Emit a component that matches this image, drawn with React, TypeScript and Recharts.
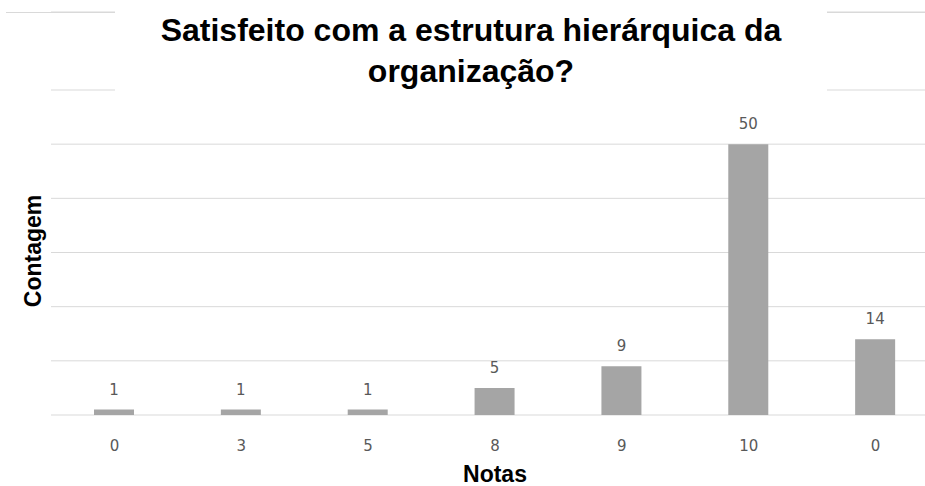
import React from 'react';
import { BarChart, Bar, XAxis, YAxis, CartesianGrid, LabelList } from 'recharts';

// notas (categorias) e contagens
const notas = ['0', '3', '5', '8', '9', '10', '0'];
const contagem = [1, 1, 1, 5, 9, 50, 14];
const gridTicks = [0, 10, 20, 30, 40, 50, 60];

const tituloLinhas = ['Satisfeito com a estrutura hierárquica da', 'organização?'];

const data = notas.map((nota, i) => ({ id: i, nota, valor: contagem[i] }));

const labelFont = { fontFamily: '"DejaVu Sans", sans-serif', fontSize: 15, fill: '#595959' };
const boldFont = '"Liberation Sans", Arial, sans-serif';

const App: React.FC = () => {
  return (
    <div style={{ position: 'absolute', left: 0, top: 0, width: 925, height: 486, overflow: 'hidden', background: '#fff' }}>
      <BarChart width={940} height={486} data={data} margin={{ top: 12, right: 1, left: 0, bottom: 0 }}>
        <CartesianGrid vertical={false} stroke="#d9d9d9" />
        <XAxis
          dataKey="id"
          height={71}
          axisLine={false}
          tickLine={false}
          tickMargin={19}
          interval={0}
          tickFormatter={(i: number) => notas[i]}
          tick={labelFont}
          label={{
            value: 'Notas',
            position: 'insideBottom',
            offset: 4,
            style: { fontFamily: boldFont, fontWeight: 'bold', fontSize: 23, fill: '#000' },
          }}
        />
        {/* eixo Y sem rótulos: só serve para as linhas de grade */}
        <YAxis
          width={51}
          domain={[0, 74.4]}
          ticks={gridTicks}
          axisLine={false}
          tickLine={false}
          tick={() => <g />}
        />
        <Bar dataKey="valor" fill="#a5a5a5" barSize={40} isAnimationActive={false}>
          <LabelList dataKey="valor" position="top" offset={15} style={labelFont} />
        </Bar>
      </BarChart>

      {/* linha superior do gráfico */}
      <div style={{ position: 'absolute', left: 6, top: 12, width: 919, height: 1, background: '#d9d9d9' }} />

      {/* título com fundo branco */}
      <div
        style={{
          position: 'absolute',
          left: 115,
          top: 0,
          width: 712,
          height: 98,
          background: '#fff',
        }}
      >
        <div
          style={{
            marginTop: 10,
            textAlign: 'center',
            fontFamily: boldFont,
            fontWeight: 'bold',
            fontSize: 32,
            lineHeight: '41px',
            color: '#000',
          }}
        >
          {tituloLinhas.map((l) => (
            <div key={l}>{l}</div>
          ))}
        </div>
      </div>

      <div
        style={{
          position: 'absolute',
          left: 33,
          top: 251,
          transform: 'translate(-50%, -50%) rotate(-90deg)',
          fontFamily: boldFont,
          fontWeight: 'bold',
          fontSize: 23,
          lineHeight: '26px',
          whiteSpace: 'nowrap',
          color: '#000',
        }}
      >
        Contagem
      </div>
    </div>
  );
};

export default App;
